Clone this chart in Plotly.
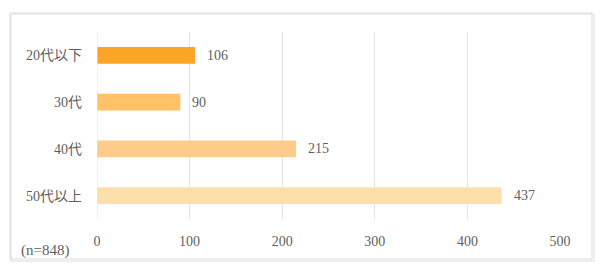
import plotly.graph_objects as go

categories = ["20代以下", "30代", "40代", "50代以上"]
values = [106, 90, 215, 437]
colors = ["#FBA526", "#FFC266", "#FDCB8A", "#FEDFAA"]
tick_vals = [0, 100, 200, 300, 400, 500]
note = "(n=848)"

FONT = "Liberation Serif, Noto Sans CJK JP, serif"
TXT = "#5F5F5F"

fig = go.Figure()
fig.add_trace(go.Bar(
    y=categories, x=values, orientation="h",
    marker=dict(color=colors, line=dict(width=0)),
    width=0.36,
))

for c, v in zip(categories, values):
    fig.add_annotation(x=v, y=c, xref="x", yref="y", text=str(v),
                       showarrow=False, xanchor="left", yanchor="middle",
                       xshift=10, font=dict(family=FONT, size=14, color=TXT))

W, H = 600, 272
fig.update_layout(
    width=W, height=H,
    margin=dict(l=97, r=40, t=32, b=53),
    paper_bgcolor="white", plot_bgcolor="white",
    showlegend=False,
    font=dict(family=FONT, color=TXT, size=13),
    xaxis=dict(range=[0, 500], tickvals=tick_vals, showgrid=True,
               gridcolor="#E3E3E3", gridwidth=1, zeroline=False,
               showline=False, ticks="", tickfont=dict(size=14, color=TXT),
               ticklabelstandoff=12, fixedrange=True),
    yaxis=dict(autorange=False, range=[3.5, -0.5], showgrid=False, zeroline=False,
               showline=False, ticks="", ticklabelstandoff=14,
               tickfont=dict(size=14, color=TXT), categoryorder="array",
               categoryarray=categories, fixedrange=True),
)

fig.add_shape(type="line", xref="x", yref="paper", x0=0, x1=0, y0=0, y1=1,
              line=dict(color="#E3E3E3", width=1))

def px(x):
    return (x - 97) / (W - 97 - 40)
def py(y):
    return 1 - (y - 32) / (H - 32 - 53)

fig.add_shape(type="rect", xref="paper", yref="paper",
              x0=px(11), x1=px(594), y0=py(261), y1=py(14),
              line=dict(color="#EEEEEE", width=2), layer="below")
fig.add_shape(type="rect", xref="paper", yref="paper",
              x0=px(10), x1=px(592), y0=py(259), y1=py(13),
              line=dict(color="#DCDCDC", width=1), fillcolor="rgba(0,0,0,0)", layer="below")

fig.add_annotation(text=note, xref="paper", yref="paper", x=px(19), y=py(250),
                   xanchor="left", yanchor="middle", showarrow=False,
                   font=dict(family=FONT, size=15, color=TXT))

fig.write_html("out.html")
